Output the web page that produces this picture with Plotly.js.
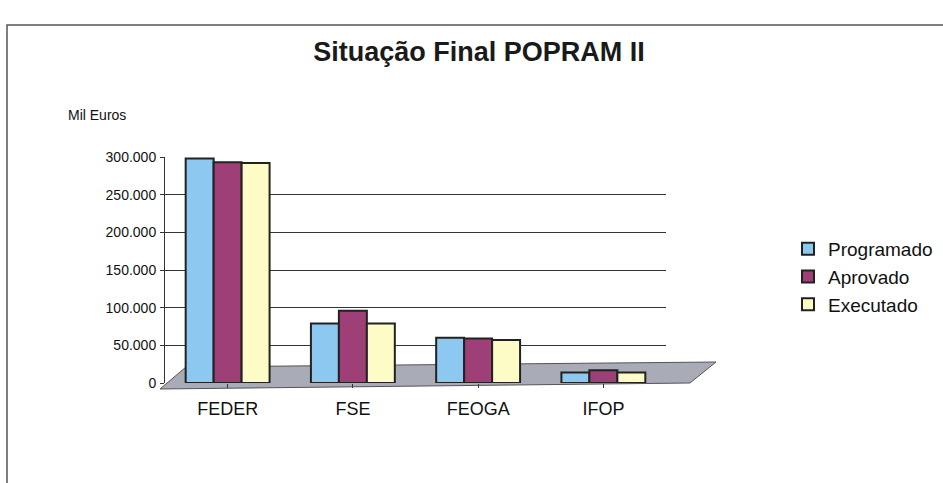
<!DOCTYPE html>
<html>
<head>
<meta charset="utf-8">
<script src="https://cdn.plot.ly/plotly-3.0.1.min.js"></script>
<style>html,body{margin:0;padding:0;background:#fff;}#chart{width:943px;height:483px;}</style>
</head>
<body>
<div id="chart"></div>
<script>
const categories = ["FEDER", "FSE", "FEOGA", "IFOP"];
const seriesNames = ["Programado", "Aprovado", "Executado"];
const programado = [298000, 79000, 60000, 14000];
const aprovado   = [293000, 96000, 59000, 17000];
const executado  = [292000, 79000, 57000, 14000];
const yTicks = [0, 50000, 100000, 150000, 200000, 250000, 300000];

const colors = ["#8dc8f0", "#9f3f78", "#fdfcc6"];
const values = [programado, aprovado, executado];

// plot area in pixels
const L = 165, R = 666, T = 157, B = 383;
const W = 943, H = 483;
function px(x) { return (x - L) / (R - L); }
function py(y) { return (B - y) / (B - T); }

const traces = seriesNames.map((n, i) => ({
  type: "bar",
  name: n,
  x: categories,
  y: values[i],
  marker: { color: colors[i], line: { color: "#222", width: 2 } },
  hoverinfo: "x+y+name"
}));

const floorPath = `M ${px(160)} ${py(389)} L ${px(690)} ${py(383)} L ${px(716)} ${py(362)} L ${px(186)} ${py(367)} Z`;

const layout = {
  width: W, height: H,
  margin: { l: L, r: W - R, t: T, b: H - B, pad: 0 },
  paper_bgcolor: "#fff",
  plot_bgcolor: "rgba(0,0,0,0)",
  separators: ",.",
  font: { family: "Liberation Sans, Arial, sans-serif", color: "#111" },
  title: {
    text: "<b>Situação Final POPRAM II</b>",
    font: { size: 27, color: "#1a1a1a" },
    xref: "container", x: 479 / W, xanchor: "center",
    yref: "container", y: 1 - 52 / H, yanchor: "middle"
  },
  barmode: "group",
  bargap: 0.33,
  bargroupgap: 0,
  xaxis: {
    type: "category",
    tickfont: { size: 18, color: "#111" },
    ticks: "outside", ticklen: 4, tickcolor: "#333",
    showline: false, showgrid: false,
    ticklabelstandoff: 5,
    automargin: false,
    fixedrange: true
  },
  yaxis: {
    range: [0, 300000],
    tickvals: yTicks,
    tickformat: ",d",
    tickfont: { size: 14, color: "#111" },
    ticks: "outside", ticklen: 4, tickcolor: "#333",
    showline: true, linecolor: "#333", linewidth: 1,
    showgrid: true, gridcolor: "#333", gridwidth: 1,
    zeroline: false,
    ticklabelstandoff: 1,
    automargin: false,
    fixedrange: true
  },
  legend: {
    xref: "container", yref: "container",
    x: 788 / W, xanchor: "left",
    y: 1 - 230 / H, yanchor: "top",
    font: { size: 19, color: "#111" },
    bgcolor: "rgba(0,0,0,0)",
    tracegroupgap: 0,
    itemwidth: 30
  },
  showlegend: true,
  annotations: [{
    text: "Mil Euros",
    xref: "paper", yref: "paper",
    x: px(66), xanchor: "left",
    y: py(115), yanchor: "middle",
    showarrow: false,
    font: { size: 14, color: "#111" }
  }],
  shapes: [
    { type: "path", path: floorPath, xref: "paper", yref: "paper", layer: "below",
      fillcolor: "#a9acb6", line: { color: "#555", width: 1 } },
    { type: "rect", xref: "paper", yref: "paper", layer: "below",
      x0: px(7), x1: px(950), y0: py(495), y1: py(25),
      line: { color: "#555", width: 1.5 }, fillcolor: "rgba(0,0,0,0)" }
  ]
};

Plotly.newPlot("chart", traces, layout, { displayModeBar: false, staticPlot: true });
</script>
</body>
</html>
